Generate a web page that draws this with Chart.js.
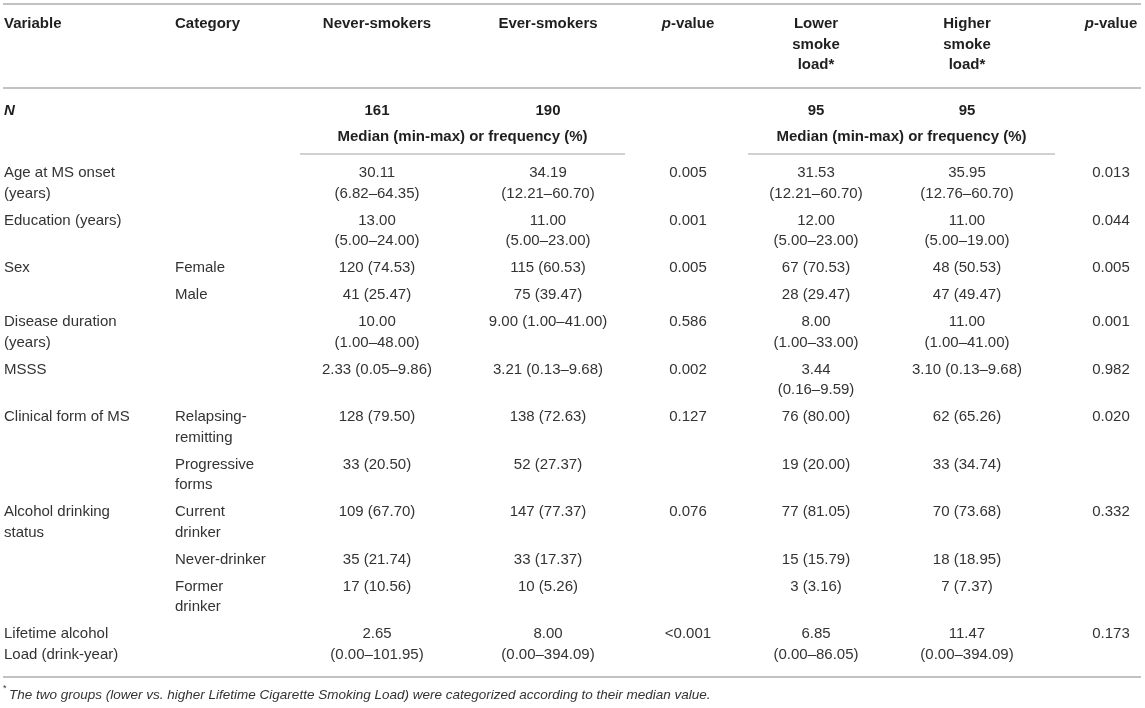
<!DOCTYPE html>
<html>
<head>
<meta charset="utf-8">
<script src="https://cdn.jsdelivr.net/npm/chart.js@4.4.0/dist/chart.umd.min.js"></script>
<style>
  html, body { margin: 0; padding: 0; background: #fff; }
  #wrap { width: 1145px; height: 708px; position: relative; }
</style>
</head>
<body>
<div id="wrap"><canvas id="tbl"></canvas></div>
<script>
// Table content, one array per column
const headers = ["Variable", "Category", "Never-smokers", "Ever-smokers", "p-value", "Lower\nsmoke\nload*", "Higher\nsmoke\nload*", "p-value"];
const groupN = ["", "", "161", "190", "", "95", "95", ""];
const groupLabel = "Median (min-max) or frequency (%)";

const variables = ["Age at MS onset\n(years)", "Education (years)", "Sex", "", "Disease duration\n(years)", "MSSS",
  "Clinical form of MS", "", "Alcohol drinking\nstatus", "", "", "Lifetime alcohol\nLoad (drink-year)"];
const categories = ["", "", "Female", "Male", "", "", "Relapsing-\nremitting", "Progressive\nforms",
  "Current\ndrinker", "Never-drinker", "Former\ndrinker", ""];
const neverSmokers = ["30.11\n(6.82–64.35)", "13.00\n(5.00–24.00)", "120 (74.53)", "41 (25.47)", "10.00\n(1.00–48.00)",
  "2.33 (0.05–9.86)", "128 (79.50)", "33 (20.50)", "109 (67.70)", "35 (21.74)", "17 (10.56)", "2.65\n(0.00–101.95)"];
const everSmokers = ["34.19\n(12.21–60.70)", "11.00\n(5.00–23.00)", "115 (60.53)", "75 (39.47)", "9.00 (1.00–41.00)",
  "3.21 (0.13–9.68)", "138 (72.63)", "52 (27.37)", "147 (77.37)", "33 (17.37)", "10 (5.26)", "8.00\n(0.00–394.09)"];
const pSmoking = ["0.005", "0.001", "0.005", "", "0.586", "0.002", "0.127", "", "0.076", "", "", "<0.001"];
const lowerLoad = ["31.53\n(12.21–60.70)", "12.00\n(5.00–23.00)", "67 (70.53)", "28 (29.47)", "8.00\n(1.00–33.00)",
  "3.44\n(0.16–9.59)", "76 (80.00)", "19 (20.00)", "77 (81.05)", "15 (15.79)", "3 (3.16)", "6.85\n(0.00–86.05)"];
const higherLoad = ["35.95\n(12.76–60.70)", "11.00\n(5.00–19.00)", "48 (50.53)", "47 (49.47)", "11.00\n(1.00–41.00)",
  "3.10 (0.13–9.68)", "62 (65.26)", "33 (34.74)", "70 (73.68)", "18 (18.95)", "7 (7.37)", "11.47\n(0.00–394.09)"];
const pLoad = ["0.013", "0.044", "0.005", "", "0.001", "0.982", "0.020", "", "0.332", "", "", "0.173"];
const footnote = "The two groups (lower vs. higher Lifetime Cigarette Smoking Load) were categorized according to their median value.";

const columns = [variables, categories, neverSmokers, everSmokers, pSmoking, lowerLoad, higherLoad, pLoad];

// layout (in scale units, which match the canvas pixels)
const colX = [4, 175, 377, 548, 688, 816, 967, 1111];
const colAlign = ["left", "left", "center", "center", "center", "center", "center", "center"];
const lineH = 20.5, rowGap = 27, firstRowY = 173;
const FONT = "'Liberation Sans', Arial, Helvetica, sans-serif";
const HEAD_INK = "#1f1f1f", INK = "#333", RULE = "#c2c2c2";

function rowPositions(){
  const ys = [];
  let y = firstRowY;
  for (let r = 0; r < variables.length; r++) {
    ys.push(y);
    const n = Math.max(...columns.map(c => c[r] ? c[r].split("\n").length : 1));
    y += (n - 1) * lineH + rowGap;
  }
  return ys;
}

const tablePlugin = {
  id: "tableDraw",
  afterDraw(chart){
    const ctx = chart.ctx;
    const sx = chart.scales.x, sy = chart.scales.y;
    const X = v => sx.getPixelForValue(v);
    const Y = v => sy.getPixelForValue(v);
    ctx.save();
    ctx.textBaseline = "middle";

    function rule(x0, x1, y, w){
      ctx.strokeStyle = RULE; ctx.lineWidth = w || 2;
      ctx.beginPath(); ctx.moveTo(X(x0), Y(y)); ctx.lineTo(X(x1), Y(y)); ctx.stroke();
    }
    function text(str, x, y, align, font, color){
      ctx.font = font; ctx.textAlign = align; ctx.fillStyle = color || INK;
      str.split("\n").forEach((ln, i) => ctx.fillText(ln, X(x), Y(y + i * lineH)));
    }
    function pValue(x, y){
      const fi = "italic bold 15px " + FONT, fb = "bold 15px " + FONT;
      ctx.font = fi; const w1 = ctx.measureText("p").width;
      ctx.font = fb; const w2 = ctx.measureText("-value").width;
      const left = X(x) - (w1 + w2) / 2;
      ctx.textAlign = "left"; ctx.fillStyle = HEAD_INK;
      ctx.font = fi; ctx.fillText("p", left, Y(y));
      ctx.font = fb; ctx.fillText("-value", left + w1, Y(y));
    }

    // rules
    rule(3, 1141, 4);
    rule(3, 1141, 88);
    rule(300, 625, 154, 1.6);
    rule(748, 1055, 154, 1.6);

    // header
    headers.forEach((h, c) => {
      if (h === "p-value") pValue(colX[c], 24);
      else text(h, colX[c], 24, colAlign[c], "bold 15px " + FONT, HEAD_INK);
    });

    // N row
    text("N", colX[0], 111, "left", "italic bold 15px " + FONT, HEAD_INK);
    groupN.forEach((v, c) => { if (v) text(v, colX[c], 111, "center", "bold 15px " + FONT, HEAD_INK); });
    text(groupLabel, 462.5, 137, "center", "bold 15px " + FONT, HEAD_INK);
    text(groupLabel, 901.5, 137, "center", "bold 15px " + FONT, HEAD_INK);

    // body
    const ys = rowPositions();
    columns.forEach((col, c) => {
      col.forEach((v, r) => { if (v) text(v, colX[c], ys[r], colAlign[c], "15px " + FONT); });
    });
    rule(3, 1141, 677);

    // footnote
    text("*", 3, 689, "left", "9px " + FONT);
    text(footnote, 9, 695, "left", "italic 13.5px " + FONT);
    ctx.restore();
  }
};

new Chart(document.getElementById("tbl"), {
  type: "scatter",
  data: { datasets: [{ data: [], pointRadius: 0 }] },
  options: {
    responsive: true,
    maintainAspectRatio: false,
    animation: false,
    layout: { padding: 0 },
    plugins: { legend: { display: false }, tooltip: { enabled: false } },
    scales: {
      x: { type: "linear", min: 0, max: 1145, display: false },
      y: { type: "linear", min: 0, max: 708, reverse: true, display: false }
    }
  },
  plugins: [tablePlugin]
});
</script>
</body>
</html>
